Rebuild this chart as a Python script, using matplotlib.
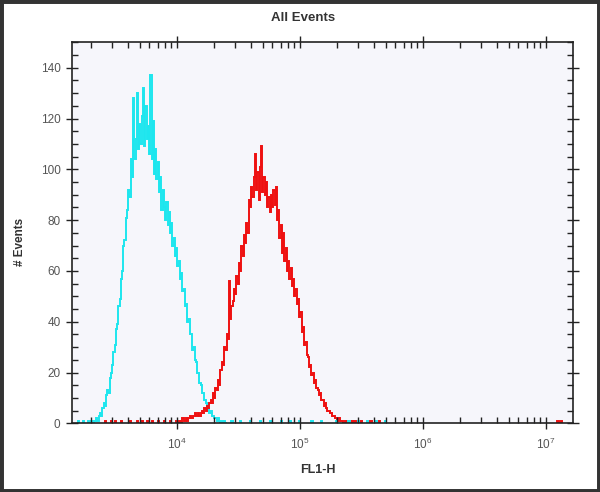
import numpy as np
import matplotlib.pyplot as plt
from matplotlib.patches import Rectangle
from matplotlib.ticker import LogLocator, MultipleLocator, LogFormatterSciNotation, NullFormatter

plt.rcParams['font.family'] = ['Liberation Sans', 'DejaVu Sans']
plt.rcParams['mathtext.fontset'] = 'custom'
plt.rcParams['mathtext.rm'] = 'Liberation Sans'
plt.rcParams['mathtext.default'] = 'regular'

# histogram channels, log10(FL1-H) spaced by 0.01
log_step = 0.01

cyan_start = 3.30
cyan_counts = [0, 1, 0, 1, 1, 2, 1, 3, 4, 3,
               6, 8, 7, 11, 13, 12, 18, 20, 23, 28,
               31, 37, 39, 46, 49, 57, 60, 70, 72, 81,
               84, 92, 89, 104, 97, 128, 104, 112, 130, 108,
               118, 110, 121, 132, 109, 125, 112, 117, 106, 137,
               104, 119, 98, 108, 96, 103, 91, 97, 84, 92,
               85, 80, 87, 78, 83, 75, 79, 70, 73, 66,
               69, 62, 64, 57, 59, 52, 53, 46, 47, 40,
               41, 35, 35, 29, 30, 25, 24, 20, 20, 16,
               15, 12, 12, 9, 8, 6, 6, 4, 5, 3,
               3, 2, 2, 1, 2, 1, 0, 1, 0, 1, 0]

red_start = 4.00
red_counts = [1, 0, 1, 1, 0, 2, 1, 1, 2, 1,
              2, 3, 2, 2, 3, 4, 3, 3, 4, 3,
              4, 5, 4, 6, 5, 7, 6, 8, 9, 8,
              12, 10, 14, 13, 17, 15, 21, 24, 23, 30,
              29, 35, 33, 56, 41, 46, 48, 53, 51, 58,
              55, 63, 60, 70, 66, 74, 71, 79, 75, 88,
              85, 93, 89, 97, 106, 92, 99, 88, 101, 109,
              91, 97, 90, 95, 85, 89, 83, 90, 85, 92,
              86, 93, 80, 84, 73, 78, 67, 75, 64, 69,
              60, 64, 57, 61, 54, 57, 50, 53, 47, 49,
              42, 44, 36, 38, 31, 32, 27, 26, 22, 23,
              19, 20, 16, 17, 14, 13, 11, 12, 9, 9,
              7, 8, 6, 5, 5, 4, 4, 3, 3, 2,
              2, 1, 2, 1, 1, 1, 0, 1, 0, 1,
              0, 1, 0, 1, 0, 1]

# scattered single events outside the main peaks (log10 positions)
cyan_tail = [3.20, 3.24, 3.28, 4.45, 4.52, 4.60, 4.68, 4.76, 4.85, 4.92,
             5.00, 5.10, 5.18, 5.30, 5.40, 5.48, 5.55, 5.62, 5.70]
red_tail = [3.42, 3.47, 3.50, 3.55, 3.62, 3.68, 3.72, 3.76, 3.80, 3.85,
            3.90, 3.95, 5.50, 5.58, 5.65, 7.10, 7.13]

cyan = '#1ee6ee'
red = '#ee1111'


def bin_edges(start, n):
    return 10 ** (start - log_step / 2 + log_step * np.arange(n + 1))


fig = plt.figure(figsize=(6, 4.92), dpi=100)
ax = fig.add_axes([0.1195, 0.1396, 0.836, 0.7744])
ax.set_facecolor('#f6f6fb')

ax.stairs(cyan_counts, bin_edges(cyan_start, len(cyan_counts)), color=cyan, lw=1.4)
ax.stairs(red_counts, bin_edges(red_start, len(red_counts)), color=red, lw=1.4)
for l in cyan_tail:
    ax.stairs([1], bin_edges(l, 1), color=cyan, lw=1.4)
for l in red_tail:
    ax.stairs([1], bin_edges(l, 1), color=red, lw=1.4)

ax.set_xscale('log')
ax.set_xlim(10 ** 3.146, 10 ** 7.224)
ax.set_ylim(0, 150)

ax.xaxis.set_major_locator(LogLocator(base=10, numticks=10))
ax.xaxis.set_major_formatter(LogFormatterSciNotation())
ax.xaxis.set_minor_locator(LogLocator(base=10, subs=np.arange(2, 10), numticks=20))
ax.xaxis.set_minor_formatter(NullFormatter())
ax.yaxis.set_major_locator(MultipleLocator(20))
ax.yaxis.set_minor_locator(MultipleLocator(5))

ax.tick_params(which='major', direction='inout', length=8, width=1, color='#222',
               top=True, right=True, labelsize=8.5, labelcolor='#555', pad=4)
ax.tick_params(which='minor', direction='in', length=4, width=1, color='#222',
               top=True, right=True)
ax.tick_params(axis='x', which='major', pad=6)
for s in ax.spines.values():
    s.set_color('#222')
    s.set_linewidth(1.2)
    s.set_zorder(3)

fig.text(0.505, 0.963, 'All Events', ha='center', va='center', fontsize=9.5,
         fontweight='bold', color='#333')
fig.text(0.53, 0.045, 'FL1-H', ha='center', va='center', fontsize=9,
         fontweight='bold', color='#333')
fig.text(0.034, 0.508, '# Events', ha='center', va='center', rotation=90,
         fontsize=8.5, fontweight='bold', color='#333')

fig.patches.append(Rectangle((0, 0), 1, 1, transform=fig.transFigure, fill=False,
                             lw=5, edgecolor='#333'))

fig.savefig('out.png', dpi=100)
